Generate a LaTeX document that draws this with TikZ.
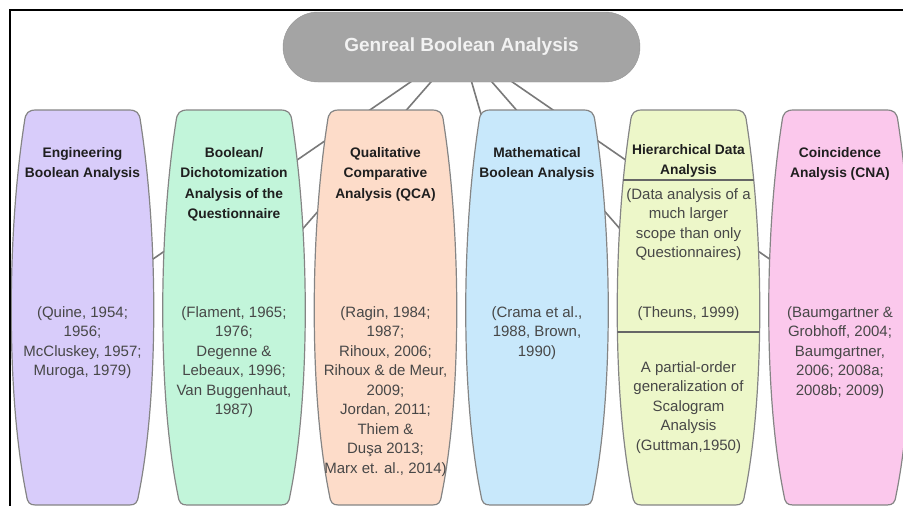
\documentclass[tikz,border=0pt]{standalone}
\usepackage{fontspec}
\setmainfont{Liberation Sans}
\usetikzlibrary{positioning,backgrounds,calc}
\usepackage{xcolor}
\definecolor{engfill}{HTML}{D8CCFA}
\definecolor{dichfill}{HTML}{C2F5DA}
\definecolor{qcafill}{HTML}{FDDCC9}
\definecolor{mathfill}{HTML}{C8E8FB}
\definecolor{hdafill}{HTML}{EDF7C9}
\definecolor{cnafill}{HTML}{FBC8EC}
\definecolor{pillgray}{HTML}{A4A4A4}
\definecolor{edgegray}{HTML}{858585}
% outline of one column, around its centre
\newcommand{\barrelpath}{(-46,197.5) -- (46,197.5) .. controls (54,197.5) and (57,195) .. (58,186)
  .. controls (76,70) and (76,-90) .. (56,-188) .. controls (55,-195) and (53,-197.5) .. (47,-197.5)
  -- (-47,-197.5) .. controls (-53,-197.5) and (-55,-195) .. (-56,-188)
  .. controls (-76,-90) and (-76,70) .. (-58,186) .. controls (-57,195) and (-54,197.5) .. (-46,197.5) -- cycle}

\begin{document}
\begin{tikzpicture}[
    x=1pt, y=1pt,
    col/.style={minimum width=140pt, minimum height=395pt, inner sep=0pt, outer sep=0pt},
    colbox/.style={draw=edgegray, line width=1.2pt},
    pill/.style={fill=pillgray, draw=pillgray!90!black, rounded corners=35pt, minimum width=357pt, minimum height=70pt,
      text=white!95!black, font=\bfseries\fontsize{19}{22}\selectfont},
    head/.style={inner sep=0pt, align=center, text=black!88, font=\bfseries\fontsize{13.8}{20.4}\selectfont},
    refs/.style={inner sep=0pt, align=center, text=black!72, font=\fontsize{15}{19.5}\selectfont},
    link/.style={draw=gray!95!black, line width=1.6pt},
    divider/.style={draw=black!60, line width=1.2pt}
  ]
  \useasboundingbox (0,0) rectangle (903,-506);
  \draw[line width=2pt] (10,-506) -- (10,-10) -- (903,-10);

  \node[pill] (gba) at (461.5,-47) {Genreal Boolean Analysis};

  \node[col] (eng) at (82.5,-307.5) {};
  \node[col, right=11.5pt of eng] (dich) {};
  \node[col, right=11.5pt of dich] (qca) {};
  \node[col, right=11.5pt of qca] (math) {};
  \node[col, right=11.5pt of math] (hda) {};
  \node[col, right=11.5pt of hda] (cna) {};

  \node[head, below=37pt of eng.north] (engtitle) {Engineering\\Boolean Analysis};
  \node[head, below=37pt of dich.north] (dichtitle) {Boolean/\\Dichotomization\\Analysis of the\\Questionnaire};
  \node[head, below=37pt of qca.north] (qcatitle) {Qualitative\\Comparative\\Analysis (QCA)};
  \node[head, below=37pt of math.north] (mathtitle) {Mathematical\\Boolean Analysis};
  \node[head, below=34pt of hda.north] (hdatitle) {Hierarchical Data\\Analysis};
  \node[head, below=37pt of cna.north] (cnatitle) {Coincidence\\Analysis (CNA)};

  \node[refs, below=196pt of eng.north] (engrefs) {(Quine, 1954;\\1956;\\McCluskey, 1957;\\Muroga, 1979)};
  \node[refs, below=196pt of dich.north] (dichrefs) {(Flament, 1965;\\1976;\\Degenne \&\\Lebeaux, 1996;\\Van Buggenhaut,\\1987)};
  \node[refs, below=196pt of qca.north] (qcarefs) {(Ragin, 1984;\\1987;\\Rihoux, 2006;\\Rihoux \& de Meur,\\2009;\\Jordan, 2011;\\Thiem \&\\Duşa 2013;\\Marx et. al., 2014)};
  \node[refs, below=196pt of math.north] (mathrefs) {(Crama et al.,\\1988, Brown,\\1990)};
  \node[refs, below=78pt of hda.north] (hdascope) {(Data analysis of a\\much larger\\scope than only\\Questionnaires)};
  \node[refs, below=196pt of hda.north] (hdarefs) {(Theuns, 1999)};
  \node[refs, below=251pt of hda.north] (hdaguttman) {A partial-order\\generalization of\\Scalogram\\Analysis\\(Guttman,1950)};
  \node[refs, below=196pt of cna.north] (cnarefs) {(Baumgartner \&\\Grobhoff, 2004;\\Baumgartner,\\2006; 2008a;\\2008b; 2009)};

  \begin{scope}[on background layer]
    \foreach \n in {eng,dich,math,hda,cna}
      \draw[link] (gba.center) -- (\n.center);
    \foreach \n/\c in {eng/engfill,dich/dichfill,qca/qcafill,math/mathfill,hda/hdafill,cna/cnafill}
      \filldraw[colbox, fill=\c, shift={(\n.center)}] \barrelpath;
    \begin{scope}
      \clip[shift={(hda.center)}] \barrelpath;
      \draw[divider] ($(hda.center)+(-80,127.5)$) -- ($(hda.center)+(80,127.5)$);
      \draw[divider] ($(hda.center)+(-80,-24.5)$) -- ($(hda.center)+(80,-24.5)$);
    \end{scope}
  \end{scope}
\end{tikzpicture}
\end{document}
